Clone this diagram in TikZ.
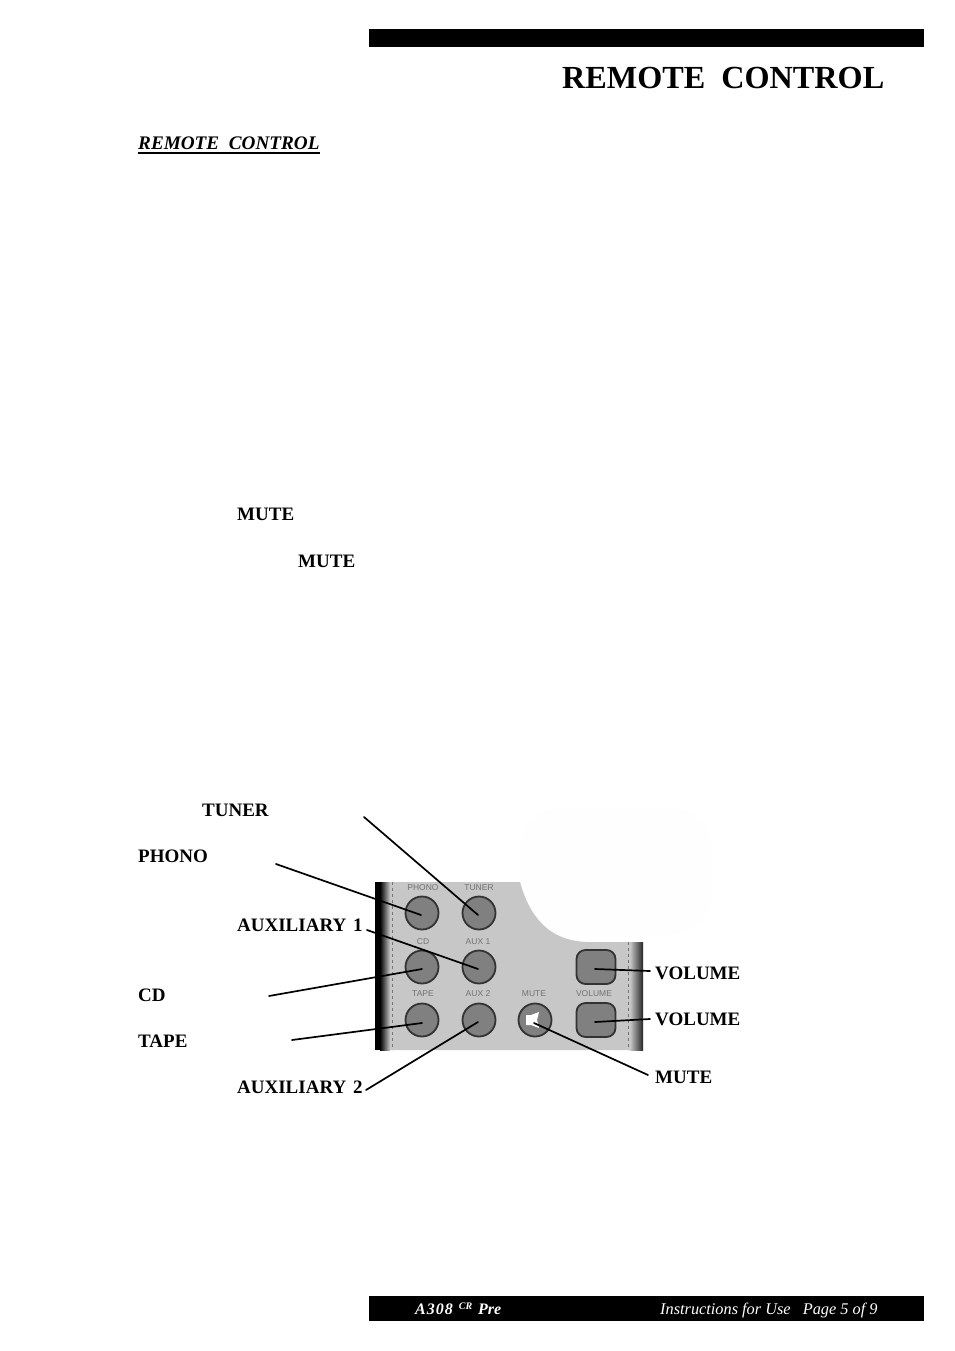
\documentclass[tikz,border=0pt]{standalone}
\usepackage{fontspec}
\setmainfont{Liberation Serif}
\setsansfont{Liberation Sans}
\usetikzlibrary{positioning}
\definecolor{panelgray}{gray}{0.78}
\definecolor{btngray}{gray}{0.50}
\definecolor{captiongray}{gray}{0.45}
\tikzset{
  label/.style = {font=\fontsize{19}{19}\selectfont\bfseries, anchor=base west, inner sep=0pt},
  btn/.style = {circle, draw=black!80, line width=1.8pt, fill=btngray, minimum size=33pt, inner sep=0pt},
  volbtn/.style = {rounded corners=9pt, draw=black!80, line width=1.8pt, fill=btngray, minimum width=39pt, minimum height=34pt, inner sep=0pt},
  caption/.style = {font=\sffamily\fontsize{8.5}{8.5}\selectfont, text=captiongray, inner sep=0pt},
  lead/.style = {line width=1.7pt, line cap=round}
}
\begin{document}
\begin{tikzpicture}[x=1pt,y=-1pt]
\useasboundingbox (0,0) rectangle (954,1351);
% header
\fill[black] (369,29) rectangle (924,47.5);
\node[font=\fontsize{32.2}{32}\selectfont\bfseries, anchor=base west, inner sep=0pt] (title) at (562,89) {REMOTE\ \ CONTROL};
\node[font=\fontsize{19.2}{20}\selectfont\bfseries\itshape, anchor=base west, inner sep=0pt] (subtitle) at (138,150) {REMOTE\ \ CONTROL};
\draw[line width=1.2pt] (subtitle.base west)++(0,3) -- ++(182,0);
% words in the text
\node[label] (muteone) at (237,520) {MUTE};
\node[label] (mutetwo) at (298,567) {MUTE};
% faint patch behind the panel
\fill[black!0.5, rounded corners=40pt] (520,808) rectangle (712,935);
% remote control panel
\path[fill=panelgray] (375,882) -- (520,882) .. controls (530,918) and (550,942) .. (590,942)
  -- (643,942) -- (643,1050) -- (375,1050) -- cycle;
\fill[black] (375,882) rectangle (380,1050);
\shade[left color=black, right color=panelgray] (380,882) rectangle (390,1050);
\shade[left color=panelgray, right color=black!85] (630,942) rectangle (643,1050);
\draw[black!55, dashed, line width=0.5pt] (392,882) -- (392,1050);
\draw[black!55, dashed, line width=0.5pt] (628,942) -- (628,1050);
% buttons
\node[btn] (phono) at (422,913) {};
\node[btn] (tuner) at (479,913) {};
\node[btn] (cd)    at (422,967) {};
\node[btn] (auxa)  at (479,967) {};
\node[btn] (tape)  at (422,1020) {};
\node[btn] (auxb)  at (479,1020) {};
\node[btn] (mute)  at (535,1020) {};
\node[volbtn] (volup)   at (596,967) {};
\node[volbtn] (voldown) at (596,1020) {};
\fill[white] (526,1015) -- (531,1015) -- (539,1012) -- (537,1020) -- (539,1028) -- (531,1025) -- (526,1025) -- cycle;
% button captions
\node[caption] (capphono) at (423,888) {PHONO};
\node[caption] (captuner) at (479,888) {TUNER};
\node[caption] (capcd)    at (423,942) {CD};
\node[caption] (capauxa)  at (478,942) {AUX 1};
\node[caption] (captape)  at (423,994) {TAPE};
\node[caption] (capauxb)  at (478,994) {AUX 2};
\node[caption] (capmute)  at (534,994) {MUTE};
\node[caption] (capvol)   at (594,994) {VOLUME};
% labels
\node[label] (ltuner)  at (202,816)  {TUNER};
\node[label] (lphono)  at (138,862)  {PHONO};
\node[label] (lauxa)   at (237,931)  {AUXILIARY\kern2pt\ 1};
\node[label] (lcd)     at (138,1001) {CD};
\node[label] (ltape)   at (138,1047) {TAPE};
\node[label] (lauxb)   at (237,1093) {AUXILIARY\kern2pt\ 2};
\node[label] (lvolup)  at (655,979)  {VOLUME};
\node[label] (lvoldown) at (655,1025) {VOLUME};
\node[label] (lmute)   at (655,1083) {MUTE};
% connector ends
\coordinate (etuner) at (364,817);
\coordinate (ephono) at (276,864);
\coordinate (eauxa)  at (367,930);
\coordinate (ecd)    at (269,996);
\coordinate (etape)  at (292,1040);
\coordinate (eauxb)  at (366,1090);
\coordinate (evolup) at (650,971);
\coordinate (evoldown) at (650,1019);
\coordinate (emute)  at (648,1075);
\draw[lead] (etuner) -- ([shift={(-1,2)}]tuner.center);
\draw[lead] (ephono) -- ([shift={(-1,2)}]phono.center);
\draw[lead] (eauxa) -- ([shift={(-1,2)}]auxa.center);
\draw[lead] (ecd) -- ([shift={(0,2)}]cd.center);
\draw[lead] (etape) -- ([shift={(0,3)}]tape.center);
\draw[lead] (eauxb) -- ([shift={(-1,2)}]auxb.center);
\draw[lead] (evolup) -- ([shift={(-1,2)}]volup.center);
\draw[lead] (evoldown) -- ([shift={(-1,2)}]voldown.center);
\draw[lead] (emute) -- ([shift={(-1,3)}]mute.center);
% footer
\fill[black] (369,1296) rectangle (924,1321);
\node[font=\fontsize{16}{16}\selectfont\bfseries\itshape, text=white, anchor=base west, inner sep=0pt] (model) at (415,1314) {A\kern1pt3\kern1pt0\kern1pt8\kern2pt\ \raisebox{5pt}{\fontsize{10}{10}\selectfont CR}\kern2pt\ Pre};
\node[font=\fontsize{16.3}{16}\selectfont\itshape, text=white, anchor=base west, inner sep=0pt] (page) at (660,1314) {Instructions for Use\ \ \ Page 5 of 9};
\end{tikzpicture}
\end{document}
